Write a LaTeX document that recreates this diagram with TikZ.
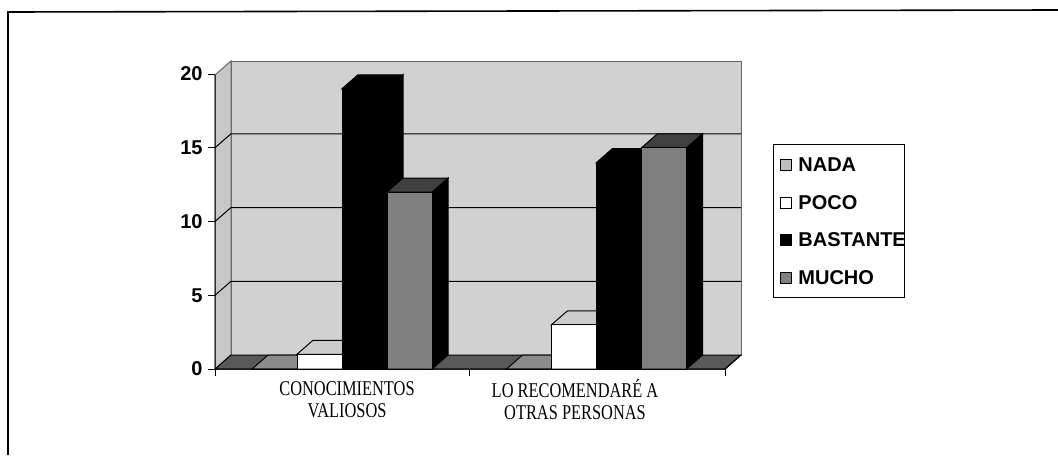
\documentclass[tikz,border=0pt]{standalone}
\usepackage{fontspec}
\setmainfont{Liberation Serif}
\setsansfont{Liberation Sans}
\usetikzlibrary{positioning}

% one 3d column: x of front left corner, value, front, top and side fill
\newcommand{\cbar}[5]{%
\filldraw[fill=#5] ({#1+45},369) -- ({#1+61},355) -- ({#1+61},{355-14.75*#2}) -- ({#1+45},{369-14.75*#2}) -- cycle;
\filldraw[fill=#4] (#1,{369-14.75*#2}) -- ({#1+45},{369-14.75*#2}) -- ({#1+61},{355-14.75*#2}) -- ({#1+16},{355-14.75*#2}) -- cycle;
\filldraw[fill=#3] (#1,369) rectangle ({#1+45},{369-14.75*#2});
}
% narrow serif line for the category names
\newcommand{\nline}[1]{\scalebox{0.78}[1]{#1}}

\begin{document}
\begin{tikzpicture}
[x=0.5pt,y=-0.5pt,line width=0.5pt,
 ylab/.style={font=\sffamily\bfseries\fontsize{10}{12}\selectfont,anchor=east,inner sep=0pt},
 catlab/.style={font=\fontsize{10.5}{11}\selectfont,align=center,inner sep=0pt},
 legtext/.style={font=\sffamily\bfseries\fontsize{10}{12}\selectfont,anchor=west,inner sep=0pt},
 legkey/.style={rectangle,draw=black,line width=0.4pt,minimum size=5.5pt,inner sep=0pt}]
\useasboundingbox (0,0) rectangle (1058,455);

% frame
\draw[line width=0.8pt] (8,455) -- (8,12) -- (1058,10);

% walls and floor
\filldraw[fill=black!18,draw=black!60] (231,355) rectangle (741,61);
\filldraw[fill=black!22,draw=black!60] (215,369) -- (231,355) -- (231,61) -- (215,75) -- cycle;
\filldraw[fill=black!65,draw=black] (215,369) -- (725,369) -- (741,355) -- (231,355) -- cycle;

% grid lines
\foreach \v in {5,10,15}
  \draw (215,{369-14.75*\v}) -- (231,{355-14.75*\v}) -- (741,{355-14.75*\v});

% columns
\cbar{252}{0}{black!45}{black!45}{black!45}
\cbar{297}{1}{white}{black!20}{white}
\cbar{342}{19}{black}{black}{black}
\cbar{387}{12}{black!50}{black!75}{black}
\cbar{506.5}{0}{black!45}{black!45}{black!45}
\cbar{551.5}{3}{white}{black!20}{white}
\cbar{596.5}{14}{black}{black}{black}
\cbar{641.5}{15}{black!50}{black!75}{black}

% axes
\draw (215,75) -- (215,369) -- (725,369) -- (741,355);
\foreach \v in {0,5,10,15,20}
  \draw (208,{369-14.75*\v}) -- (215,{369-14.75*\v});
\foreach \x in {215,469.5,725}
  \draw (\x,369) -- (\x,376);
\node[ylab] (y0) at (203,369) {0};
\node[ylab] (y5) at (203,295.25) {5};
\node[ylab] (y10) at (203,221.5) {10};
\node[ylab] (y15) at (203,147.75) {15};
\node[ylab] (y20) at (203,74) {20};

% category names
\node[catlab] (cat1) at (347,400) {\nline{CONOCIMIENTOS}\\\nline{VALIOSOS}};
\node[catlab] (cat2) at (575,400) {\nline{LO RECOMENDARÉ A}\\\nline{OTRAS PERSONAS}};

% legend
\draw (773,144) rectangle (904,297);
\node[legkey,fill=black!25] (knada) at (786,165) {};
\node[legkey,fill=white] (kpoco) at (786,202.5) {};
\node[legkey,fill=black] (kbast) at (786,240) {};
\node[legkey,fill=black!50] (kmucho) at (786,277.5) {};
\node[legtext,right=3pt of knada] (lnada) {NADA};
\node[legtext,right=3pt of kpoco] (lpoco) {POCO};
\node[legtext,right=3pt of kbast] (lbast) {BASTANTE};
\node[legtext,right=3pt of kmucho] (lmucho) {MUCHO};
\end{tikzpicture}
\end{document}
